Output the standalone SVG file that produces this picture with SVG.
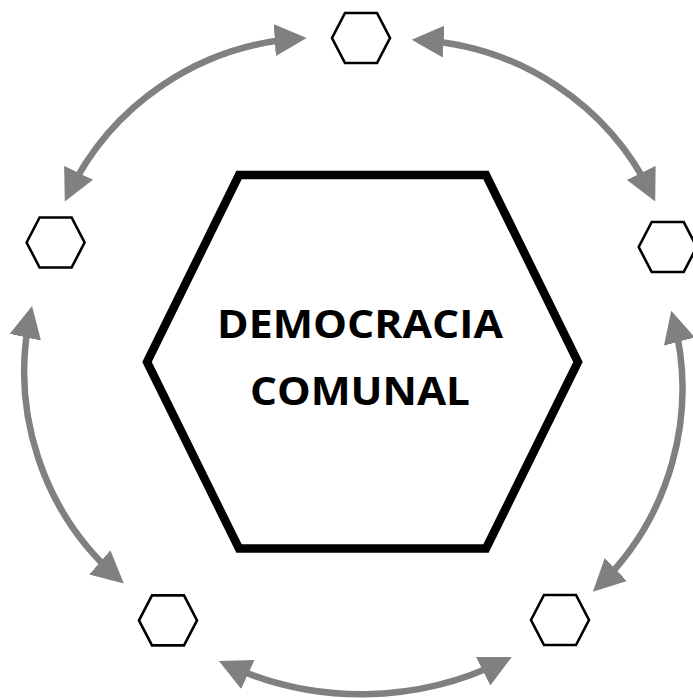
<svg xmlns="http://www.w3.org/2000/svg" width="693" height="698" viewBox="0 0 693 698">
  <style>
    .small { fill: #ffffff; stroke: #000000; stroke-width: 2.6; stroke-linejoin: miter; }
    .big { fill: #ffffff; stroke: #000000; stroke-width: 8.5; stroke-linejoin: miter; }
    .conn { fill: none; stroke: #808080; stroke-width: 6.5; marker-start: url(#headStart); marker-end: url(#headEnd); }
    .label { font-family: "Open Sans", "Lato", "Liberation Sans", sans-serif; font-weight: 700; font-size: 39px; fill: #000000; text-anchor: middle; }
  </style>
  <defs>
    <marker id="headEnd" markerUnits="userSpaceOnUse" viewBox="0 0 32 32" markerWidth="32" markerHeight="32" refX="24" refY="16" orient="auto">
      <path d="M0,0 L32,16 L0,32 Z" fill="#808080"/>
    </marker>
    <marker id="headStart" markerUnits="userSpaceOnUse" viewBox="0 0 32 32" markerWidth="32" markerHeight="32" refX="8" refY="16" orient="auto">
      <path d="M32,0 L0,16 L32,32 Z" fill="#808080"/>
    </marker>
    <polygon id="hexSmall" points="-29,0 -16,-25 16,-25 29,0 16,25 -16,25"/>
  </defs>
  <rect x="0" y="0" width="693" height="698" fill="#ffffff"/>

  <g id="connectors">
    <path class="conn" d="M68.24,194.39 A275,275 0 0 1 298.7,38.58"/>
    <path class="conn" d="M419.7,40.21 A275,275 0 0 1 651.71,194.41"/>
    <path class="conn" d="M673.27,318.37 A275,275 0 0 1 598.61,586.31"/>
    <path class="conn" d="M504.64,660.46 A320,320 0 0 1 226.16,664.26"/>
    <path class="conn" d="M117.84,578.2 A275,275 0 0 1 30.39,313.77"/>
  </g>

  <g id="center">
    <polygon class="big" points="239,175 486,175 578,362 486,548.5 239,548.5 147,362"/>
    <text class="label" x="360" y="338" textLength="286" lengthAdjust="spacingAndGlyphs">DEMOCRACIA</text>
    <text class="label" x="360" y="405" textLength="220" lengthAdjust="spacingAndGlyphs">COMUNAL</text>
  </g>

  <g id="node-top"><use href="#hexSmall" class="small" x="361" y="38"/></g>
  <g id="node-right"><use href="#hexSmall" class="small" x="667.7" y="247"/></g>
  <g id="node-bottom-right"><use href="#hexSmall" class="small" x="560" y="620"/></g>
  <g id="node-bottom-left"><use href="#hexSmall" class="small" x="168" y="620.4"/></g>
  <g id="node-left"><use href="#hexSmall" class="small" x="55.6" y="242.5"/></g>
</svg>
